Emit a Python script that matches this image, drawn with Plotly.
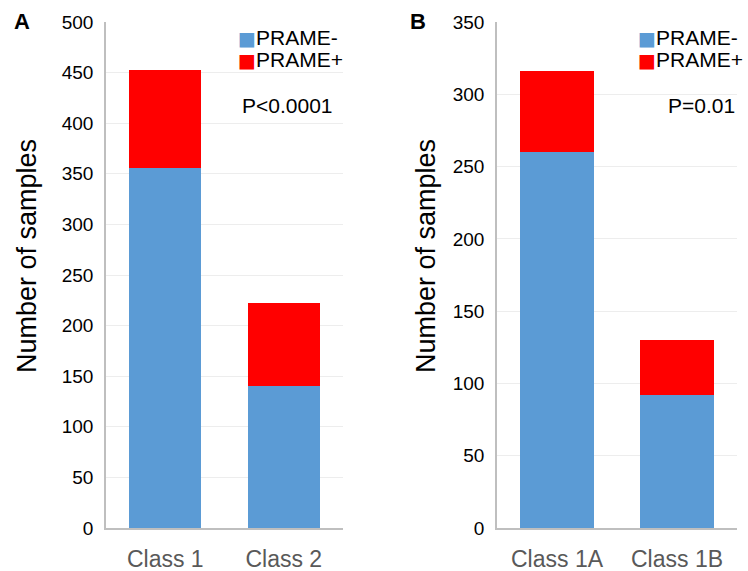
import plotly.graph_objects as go

cats_a = ["Class 1", "Class 2"]
neg_a = [356, 140]
pos_a = [97, 82]   # totals 453, 222

cats_b = ["Class 1A", "Class 1B"]
neg_b = [260, 92]
pos_b = [56, 38]   # totals 316, 130

series_names = ["PRAME-", "PRAME+"]
colors = ["#5B9BD5", "#FF0000"]

y_ticks_a = [0, 50, 100, 150, 200, 250, 300, 350, 400, 450, 500]
y_ticks_b = [0, 50, 100, 150, 200, 250, 300, 350]

y_title = "Number of samples"

FONT = "Liberation Sans, Arial, sans-serif"

fig = go.Figure()
for cats, vals_list, xa, ya in [(cats_a, [neg_a, pos_a], "x", "y"), (cats_b, [neg_b, pos_b], "x2", "y2")]:
    for name, vals, col in zip(series_names, vals_list, colors):
        fig.add_bar(x=cats, y=vals, name=name, marker_color=col, width=0.61,
                    xaxis=xa, yaxis=ya, showlegend=False, marker_line_width=0)

ybot = 1 - 528 / 571
ytop = 1 - 22 / 571

axis_common = dict(showline=True, linecolor="#BFBFBF", linewidth=1.5, ticks="",
                   automargin=False, ticklabelstandoff=10,
                   tickfont=dict(size=23, color="#595959", family=FONT))
yaxis_common = dict(showline=True, linecolor="#BFBFBF", linewidth=1.5, ticks="",
                    automargin=False, ticklabelstandoff=7,
                    showgrid=True, gridcolor="#EDEDED", gridwidth=1, zeroline=False,
                    tickfont=dict(size=19, color="#000000", family=FONT))


def legend_text(i):
    return (f"<span style='color:{colors[i]};font-family:DejaVu Sans;font-size:19px'>■</span>"
            f"{series_names[i]}")


ann = []
for x0 in (236, 636):
    for i, yc in enumerate((38, 59)):
        ann.append(dict(text=legend_text(i), x=x0 / 748, y=1 - yc / 571, xref="paper", yref="paper",
                        xanchor="left", yanchor="middle", showarrow=False,
                        font=dict(size=21, color="#000000", family=FONT)))
for txt, xc, yc, size in [("<b>A</b>", 22, 22, 22), ("<b>B</b>", 418, 22, 22),
                          ("P<0.0001", 287, 105, 21), ("P=0.01", 701, 105, 21)]:
    ann.append(dict(text=txt, x=xc / 748, y=1 - yc / 571, xref="paper", yref="paper",
                    xanchor="center", yanchor="middle", showarrow=False,
                    font=dict(size=size, color="#000000", family=FONT)))
for xc in (27, 426):
    ann.append(dict(text=y_title, x=xc / 748, y=1 - 256 / 571, xref="paper", yref="paper",
                    xanchor="center", yanchor="middle", textangle=-90, showarrow=False,
                    font=dict(size=27, color="#000000", family=FONT)))

fig.update_layout(
    width=748, height=571,
    margin=dict(l=0, r=0, t=0, b=0),
    paper_bgcolor="white", plot_bgcolor="white",
    barmode="stack",
    font=dict(family=FONT),
    showlegend=False,
    xaxis=dict(domain=[106 / 748, 343 / 748], anchor="y", **axis_common),
    yaxis=dict(domain=[ybot, ytop], anchor="x", range=[0, 500], tickvals=y_ticks_a, **yaxis_common),
    xaxis2=dict(domain=[497 / 748, 737 / 748], anchor="y2", **axis_common),
    yaxis2=dict(domain=[ybot, ytop], anchor="x2", range=[0, 350], tickvals=y_ticks_b, **yaxis_common),
    annotations=ann,
)

fig.write_html("out.html", config={"displayModeBar": False},
               post_script="document.body.style.margin='0';document.body.style.overflow='hidden';")
